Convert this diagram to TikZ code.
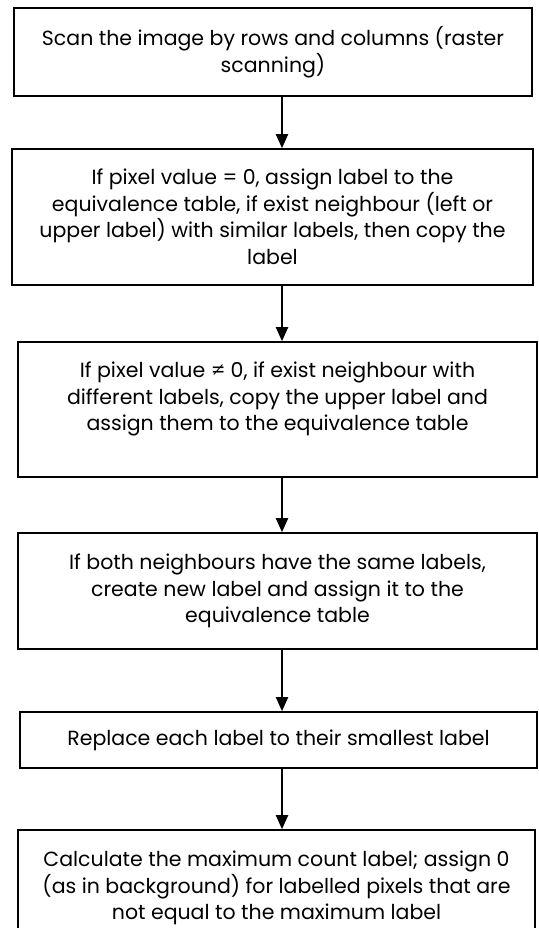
\documentclass[tikz,border=0pt]{standalone}
\usepackage{fontspec}
\setmainfont{Poppins}
\usepackage{tikz}
\usetikzlibrary{arrows.meta}
\tikzstyle{stepbox}=[rectangle,draw=black,line width=1.6pt,inner sep=0pt,align=center,
  font=\fontsize{20.5}{26.5}\selectfont]
\tikzstyle{flow}=[line width=2pt,-{Triangle[length=14pt,width=12pt]}]

\begin{document}
\begin{tikzpicture}[x=1pt,y=-1pt]
        \clip (0,0) rectangle (538,928);
        \coordinate (axis) at (282,0);
        \node at (273,52) [stepbox,minimum width=518pt,minimum height=88pt] (scan)
          {Scan the image by rows and columns (raster\\scanning)};
        \node at (272.5,217) [stepbox,minimum width=521pt,minimum height=136pt] (zero)
          {If pixel value = 0, assign label to the\\equivalence table, if exist neighbour (left or\\upper label) with similar labels, then copy the\\label};
        \node at (277.5,409.5) [stepbox,minimum width=519pt,minimum height=135pt] (nonzero)
          {If pixel value ≠ 0, if exist neighbour with\\different labels, copy the upper label and\\assign them to the equivalence table\\ };
        \node at (277.5,591) [stepbox,minimum width=519pt,minimum height=116pt] (same)
          {If both neighbours have the same labels,\\create new label and assign it to the\\equivalence table};
        \node at (278.5,740) [stepbox,minimum width=517pt,minimum height=56pt] (replace)
          {Replace each label to their smallest label};
        \node at (276.5,888) [stepbox,minimum width=517pt,minimum height=116pt] (maxlabel)
          {Calculate the maximum count label; assign 0\\(as in background) for labelled pixels that are\\not equal to the maximum label};
        \draw [flow] (scan.south -| axis) to (zero.north -| axis);
        \draw [flow] (zero.south -| axis) to (nonzero.north -| axis);
        \draw [flow] (nonzero.south -| axis) to (same.north -| axis);
        \draw [flow] (same.south -| axis) to (replace.north -| axis);
        \draw [flow] (replace.south -| axis) to (maxlabel.north -| axis);
      \end{tikzpicture}
\end{document}
